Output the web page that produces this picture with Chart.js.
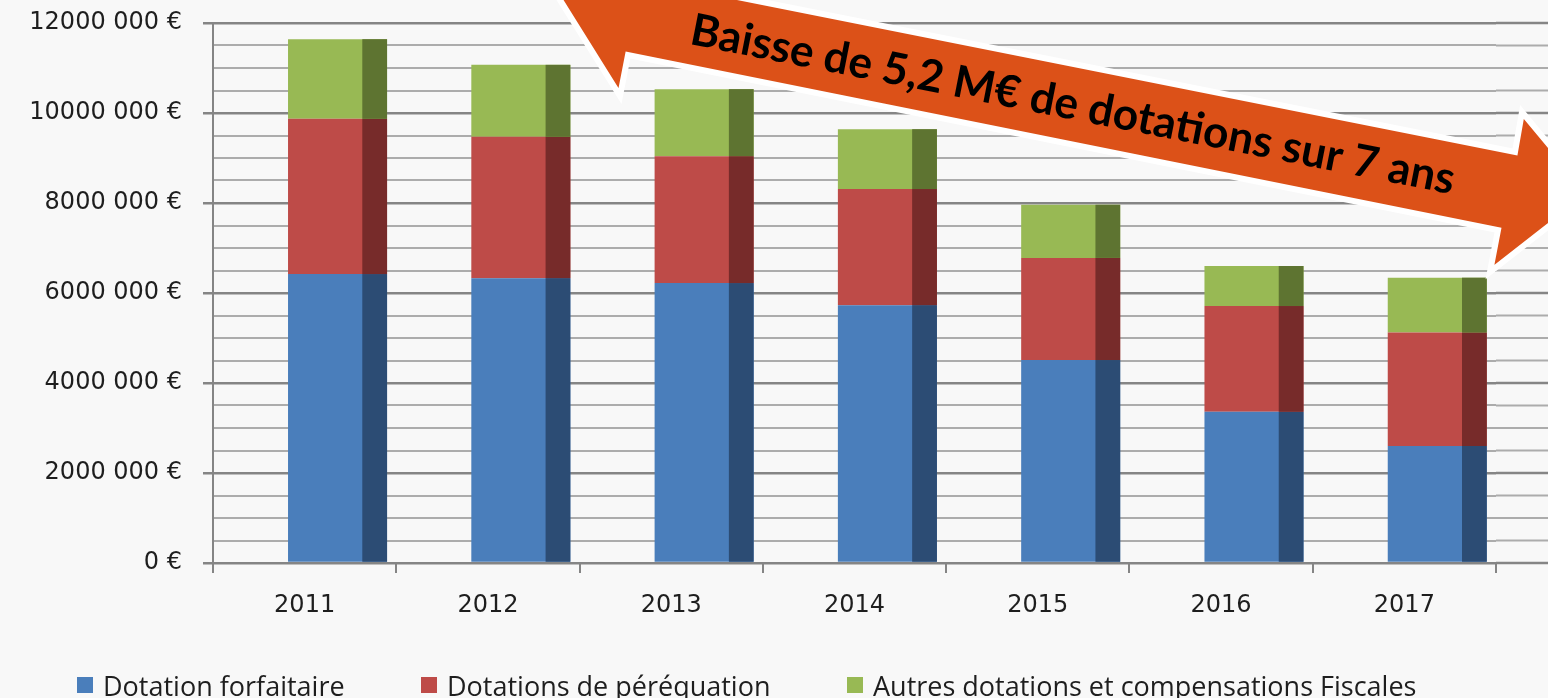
<!DOCTYPE html>
<html>
<head>
<meta charset="utf-8">
<script src="https://cdn.jsdelivr.net/npm/chart.js@4.4.1/dist/chart.umd.min.js"></script>
<style>
  html, body { margin: 0; padding: 0; background: #f8f8f8; }
  #wrap { position: relative; width: 1548px; height: 698px; overflow: hidden; }
  #chart { position: absolute; left: 0; top: 0; }
  #legend { position: absolute; left: 77px; top: 670px; display: flex; font-family: 'Open Sans', sans-serif; font-size: 27px; color: #1e1e1e; }
  .item { display: flex; align-items: center; height: 30px; white-space: nowrap; }
  .box { width: 16px; height: 16px; margin-right: 10px; flex: none; }
</style>
</head>
<body>
<div id="wrap">
  <canvas id="chart" width="1548" height="698"></canvas>
  <div id="legend"></div>
</div>
<script>
// --- Data ---
const years = ['2011', '2012', '2013', '2014', '2015', '2016', '2017'];
const forfaitaire = [6420000, 6330000, 6220000, 5730000, 4510000, 3360000, 2600000];
const perequation = [3450000, 3140000, 2820000, 2580000, 2270000, 2350000, 2520000];
const autres = [1770000, 1600000, 1490000, 1330000, 1180000, 890000, 1220000];
const spacer = [0, 0, 0, 0, 0, 0, 0];
const seriesNames = ['Dotation forfaitaire', 'Dotations de péréquation', 'Autres dotations et compensations Fiscales'];
const yTickLabels = ['0 €', '2000 000 €', '4000 000 €', '6000 000 €', '8000 000 €', '10000 000 €', '12000 000 €'];
const arrowText = 'Baisse de 5,2 M€ de dotations sur 7 ans';

// --- Colors ---
const frontColors = ['#4a7ebb', '#be4b48', '#98b954'];
const sideColors = ['#2c4c74', '#772b2a', '#5e7431'];
const majorGrid = '#858585';
const minorGrid = '#acacac';
const tickFont = { family: 'DejaVu Sans', size: 24 };

const isMajor = v => v % 2000000 === 0;

// darker right strip on every bar (3D side face)
const sideFaces = {
      id: 'sideFaces',
      afterDatasetsDraw(chart) {
            const c = chart.ctx;
            chart.data.datasets.forEach((ds, i) => {
                  if (!ds.sideColor) return;
                  chart.getDatasetMeta(i).data.forEach(bar => {
                        const { x, y, base, width } = bar.getProps(['x', 'y', 'base', 'width'], true);
                        const w = width * 0.25;
                        c.fillStyle = ds.sideColor;
                        c.fillRect(x + width / 2 - w, Math.min(y, base), w, Math.abs(base - y));
                  });
            });
      }
};

// horizontal lines keep running past the last category
const wallGrid = {
      id: 'wallGrid',
      beforeDatasetsDraw(chart) {
            const { ctx: c, chartArea, scales } = chart;
            const yScale = scales.y;
            c.save();
            yScale.ticks.forEach(t => {
                  const py = yScale.getPixelForValue(t.value);
                  c.strokeStyle = isMajor(t.value) ? majorGrid : minorGrid;
                  c.lineWidth = isMajor(t.value) ? 2.5 : 2;
                  c.beginPath();
                  c.moveTo(chartArea.right, py);
                  c.lineTo(chart.width, py);
                  c.stroke();
            });
            c.restore();
      }
};

// big orange arrow with the caption
const arrowShape = [[530, -48], [620, 96], [628, 55], [1498, 230], [1490, 272], [1590, 194], [1522, 112], [1515, 152], [662, -18], [690, -70]];
const arrowNote = {
      id: 'arrowNote',
      afterDraw(chart) {
            const c = chart.ctx;
            c.save();
            c.beginPath();
            arrowShape.forEach((p, i) => i ? c.lineTo(p[0], p[1]) : c.moveTo(p[0], p[1]));
            c.closePath();
            c.fillStyle = '#dc5118';
            c.fill();
            c.lineJoin = 'miter';
            c.lineWidth = 6;
            c.strokeStyle = '#ffffff';
            c.stroke();

            c.translate(1070, 119);
            c.rotate(Math.atan(0.197));
            c.font = 'bold 40px Lato';
            const size = 40 * 778 / c.measureText(arrowText).width;
            c.font = 'bold ' + size + 'px Lato';
            c.fillStyle = '#000';
            c.textAlign = 'center';
            c.textBaseline = 'alphabetic';
            c.fillText(arrowText, 0, 0);
            c.restore();
      }
};

function buildLegend(chart) {
      const box = document.getElementById('legend');
      const widths = ['344px', '426px', 'auto'];
      chart.data.datasets.filter(ds => ds.label).forEach((ds, i) => {
            const item = document.createElement('div');
            item.className = 'item';
            item.style.width = widths[i];
            item.innerHTML = '<span class="box" style="background:' + ds.backgroundColor + '"></span><span>' + ds.label + '</span>';
            box.appendChild(item);
      });
}

const ctx = document.getElementById('chart').getContext('2d');
const chart = new Chart(ctx, {
      type: 'bar',
      data: {
            labels: years,
            datasets: [
                  { label: '', data: spacer, stack: 'pad', backgroundColor: 'rgba(0,0,0,0)' },
                  { label: seriesNames[0], data: forfaitaire, stack: 'main', backgroundColor: frontColors[0], sideColor: sideColors[0] },
                  { label: seriesNames[1], data: perequation, stack: 'main', backgroundColor: frontColors[1], sideColor: sideColors[1] },
                  { label: seriesNames[2], data: autres, stack: 'main', backgroundColor: frontColors[2], sideColor: sideColors[2] }
            ]
      },
      options: {
            responsive: false,
            animation: false,
            devicePixelRatio: 1,
            layout: { padding: { top: 23, right: 52, bottom: 65, left: 0 } },
            datasets: {
                  bar: { categoryPercentage: 0.718, barPercentage: 1.505, borderWidth: 0 }
            },
            scales: {
                  x: {
                        stacked: true,
                        afterFit: s => { s.height = 70; },
                        grid: { drawOnChartArea: false, color: majorGrid, lineWidth: 2, tickLength: 10 },
                        border: { color: majorGrid, width: 2 },
                        ticks: { color: '#1e1e1e', padding: 18, font: tickFont }
                  },
                  y: {
                        stacked: true,
                        min: 0,
                        max: 12000000,
                        afterFit: s => { s.width = 213; s.paddingTop = 0; s.paddingBottom = 0; },
                        grid: {
                              color: c => isMajor(c.tick.value) ? majorGrid : minorGrid,
                              lineWidth: c => isMajor(c.tick.value) ? 2.5 : 2,
                              tickColor: c => isMajor(c.tick.value) ? majorGrid : 'rgba(0,0,0,0)',
                              tickLength: 10
                        },
                        border: { color: majorGrid, width: 2 },
                        ticks: {
                              stepSize: 500000,
                              autoSkip: false,
                              color: '#1e1e1e',
                              padding: 21,
                              font: tickFont,
                              callback: v => isMajor(v) ? yTickLabels[v / 2000000] : ''
                        }
                  }
            },
            plugins: {
                  legend: { display: false },
                  tooltip: { enabled: false }
            }
      },
      plugins: [wallGrid, sideFaces, arrowNote]
});

buildLegend(chart);
</script>
</body>
</html>
